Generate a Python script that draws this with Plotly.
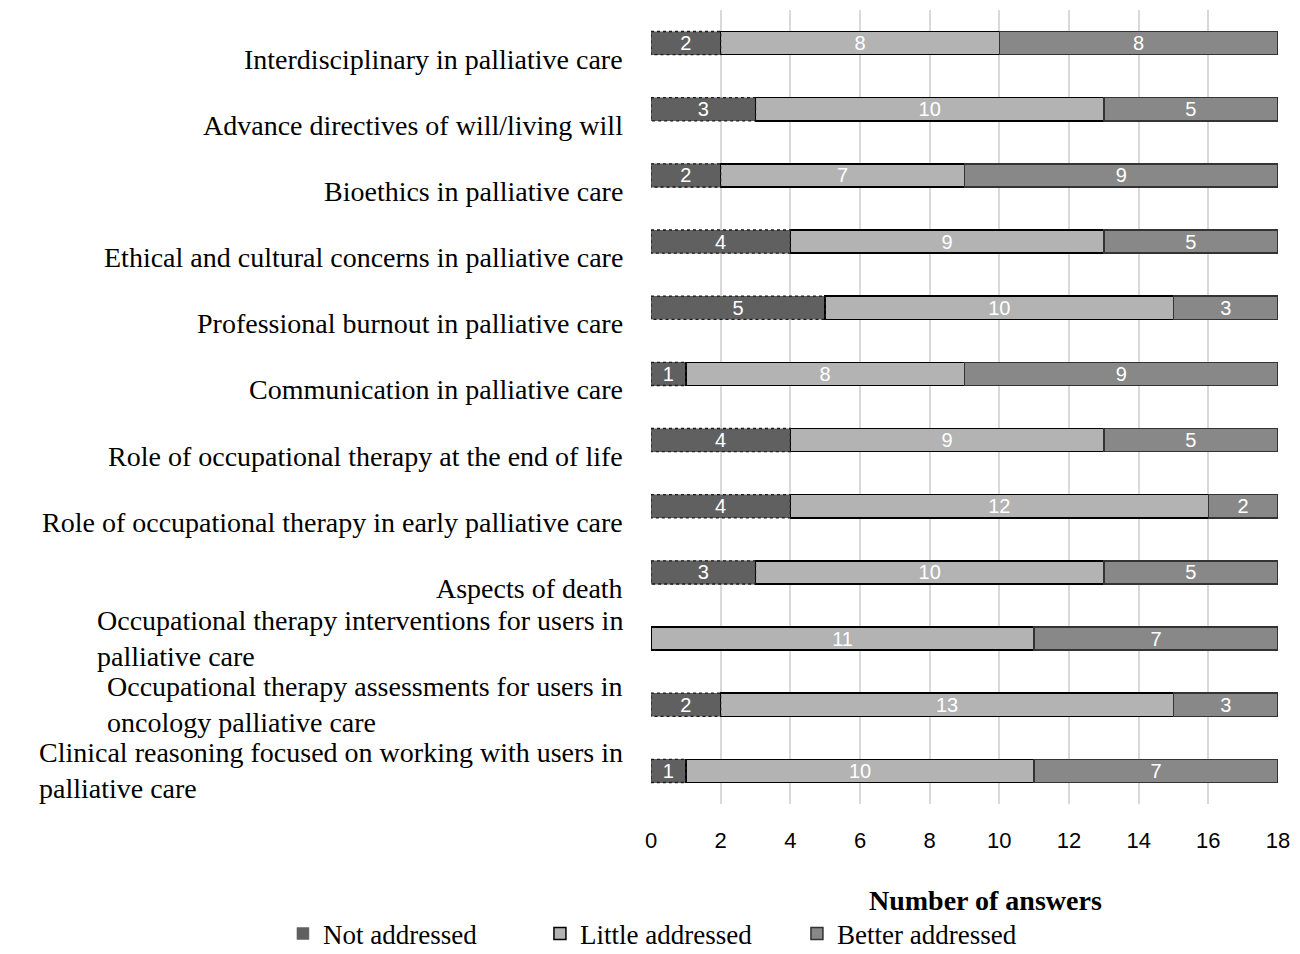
import plotly.graph_objects as go

categories = [
    "Interdisciplinary in palliative care",
    "Advance directives of will/living will",
    "Bioethics in palliative care",
    "Ethical and cultural concerns in palliative care",
    "Professional burnout in palliative care",
    "Communication in palliative care",
    "Role of occupational therapy at the end of life",
    "Role of occupational therapy in early palliative care",
    "Aspects of death",
    "Occupational therapy interventions for users in<br>palliative care",
    "Occupational therapy assessments for users in<br>oncology palliative care",
    "Clinical reasoning focused on working with users in<br>palliative care",
]
not_addressed = [2, 3, 2, 4, 5, 1, 4, 4, 3, 0, 2, 1]
little_addressed = [8, 10, 7, 9, 10, 8, 9, 12, 10, 11, 13, 10]
better_addressed = [8, 5, 9, 5, 3, 9, 5, 2, 5, 7, 3, 7]
x_ticks = [0, 2, 4, 6, 8, 10, 12, 14, 16, 18]

SERIF = "Liberation Serif"
SANS = "Liberation Sans"
BAR_W = 0.35
ypos = list(range(len(categories)))


def txt(vals):
    return [str(v) if v else "" for v in vals]


common = dict(orientation="h", width=BAR_W, textposition="inside",
              insidetextanchor="middle", textangle=0, constraintext="none",
              textfont=dict(color="white", family=SANS, size=20))

fig = go.Figure()
fig.add_trace(go.Bar(
    name="Not addressed", y=ypos, x=not_addressed, text=txt(not_addressed),
    marker=dict(color="#606060", line=dict(color="#606060", width=0.5)), **common,
))
fig.add_trace(go.Bar(
    name="Little addressed", y=ypos, x=little_addressed, text=txt(little_addressed),
    marker=dict(color="#b3b3b3", line=dict(color="#000000", width=1.5)), **common,
))
fig.add_trace(go.Bar(
    name="Better addressed", y=ypos, x=better_addressed, text=txt(better_addressed),
    marker=dict(color="#888888", line=dict(color="#333333", width=1.5)), **common,
))

# dashed outlines for "Not addressed" segments (derived from data)
ox, oy = [], []
h = BAR_W / 2
for i, v in enumerate(not_addressed):
    if v:
        ox += [0, v, v, 0, 0, None]
        oy += [i - h, i - h, i + h, i + h, i - h, None]
fig.add_trace(go.Scatter(
    x=ox, y=oy, mode="lines", line=dict(color="#1a1a1a", width=1.3, dash="dot"),
    showlegend=False, hoverinfo="skip",
))

for i, c in enumerate(categories):
    two = "<br>" in c
    fig.add_annotation(
        x=0, xref="paper", y=i, yref="y", text=c, showarrow=False,
        xanchor="right", yanchor="middle", align="left", xshift=-26,
        yshift=0 if two else -16,
        font=dict(family=SERIF, size=28, color="#000000"),
    )

fig.add_annotation(
    x=0.534, xref="paper", y=-0.121, yref="paper", text="<b>Number of answers</b>",
    showarrow=False, xanchor="center", yanchor="middle",
    font=dict(family=SERIF, size=28, color="#000000"),
)

fig.update_layout(
    width=1292, height=946, barmode="stack",
    margin=dict(l=643, r=22, t=2, b=150, autoexpand=False),
    plot_bgcolor="white", paper_bgcolor="white",
    xaxis=dict(range=[0, 18], tickvals=x_ticks, showgrid=True, gridcolor="#d9d9d9",
               gridwidth=1.5, zeroline=False, showline=False, ticks="",
               ticklabelstandoff=21,
               tickfont=dict(family=SANS, size=22, color="#000000")),
    yaxis=dict(range=[11.5, -0.5], showticklabels=False, showgrid=False,
               zeroline=False, showline=False),
    legend=dict(orientation="h", x=-0.587, xanchor="left", xref="paper",
                y=-0.1637, yref="paper", yanchor="middle",
                font=dict(family=SERIF, size=27, color="#000000"),
                entrywidth=212, traceorder="normal", itemwidth=30),
    showlegend=True,
)
fig.write_html("out.html")
